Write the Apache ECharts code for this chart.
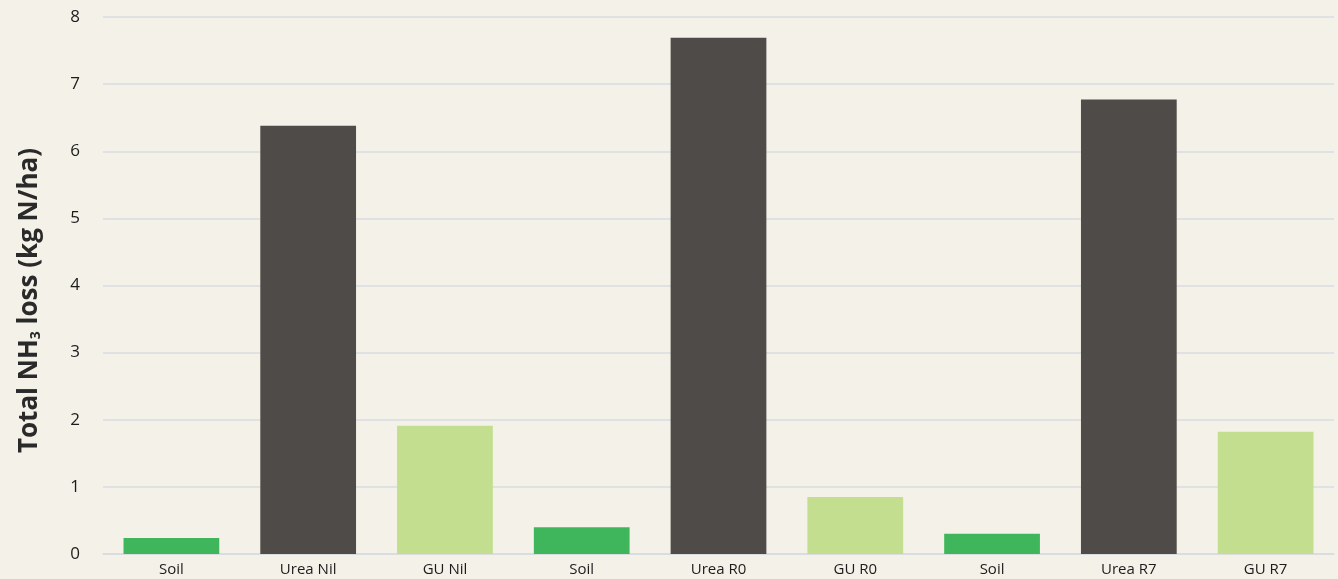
<!DOCTYPE html>
<html lang="en">
<head>
    <meta charset="utf-8" />
    <title>Total NH3 loss</title>
    <style>
        html,
        body {
            width: 100%;
            height: 100%;
            margin: 0;
            background: #f4f1e8;
        }
    </style>
</head>
<body>
    <div id="main" style="width: 1338px;height:579px;"></div>
    <script src="https://cdn.jsdelivr.net/npm/echarts@6/dist/echarts.min.js"></script>
    <script type="text/javascript">
        var categories = ['Soil', 'Urea Nil', 'GU Nil', 'Soil', 'Urea R0', 'GU R0', 'Soil', 'Urea R7', 'GU R7'];
        var lossValues = [0.24, 6.38, 1.91, 0.40, 7.69, 0.85, 0.30, 6.77, 1.82];
        var barColors = ['#40b65c', '#4f4b48', '#c2de8e', '#40b65c', '#4f4b48', '#c2de8e', '#40b65c', '#4f4b48', '#c2de8e'];
        var yTicks = [0, 1, 2, 3, 4, 5, 6, 7, 8];

        var chart = echarts.init(document.getElementById('main'));

        var option = {
            backgroundColor: '#f4f1e8',
            grid: {
                left: 103,
                right: 4,
                top: 17,
                bottom: 25
            },
            xAxis: {
                type: 'category',
                data: categories,
                axisTick: { show: false },
                axisLine: { lineStyle: { color: '#d8dbe0', width: 1.5 } },
                axisLabel: {
                    color: '#1c1c1c',
                    fontSize: 15,
                    fontFamily: 'Open Sans',
                    margin: 8,
                    interval: 0
                }
            },
            yAxis: {
                type: 'value',
                min: yTicks[0],
                max: yTicks[yTicks.length - 1],
                interval: 1,
                name: '{b|Total NH}{s|3}{b| loss (kg N/ha)}',
                nameLocation: 'middle',
                nameGap: 60,
                nameTextStyle: {
                    padding: [0, 30, 0, 0],
                    rich: {
                        b: { fontSize: 26, fontWeight: 'bold', color: '#2a2a2a', fontFamily: 'Open Sans' },
                        s: { fontSize: 14, fontWeight: 'bold', color: '#2a2a2a', fontFamily: 'Open Sans', verticalAlign: 'bottom', padding: [12, 0, 0, 0] }
                    }
                },
                axisLine: { show: false },
                axisTick: { show: false },
                axisLabel: {
                    color: '#1c1c1c',
                    fontSize: 17,
                    fontFamily: 'Open Sans',
                    margin: 23
                },
                splitLine: { lineStyle: { color: '#d8dbe0', width: 1.5 } }
            },
            series: [{
                type: 'bar',
                barCategoryGap: '30%',
                data: lossValues.map(function (v, i) {
                    return { value: v, itemStyle: { color: barColors[i] } };
                })
            }]
        };

        chart.setOption(option);
    </script>
</body>
</html>
